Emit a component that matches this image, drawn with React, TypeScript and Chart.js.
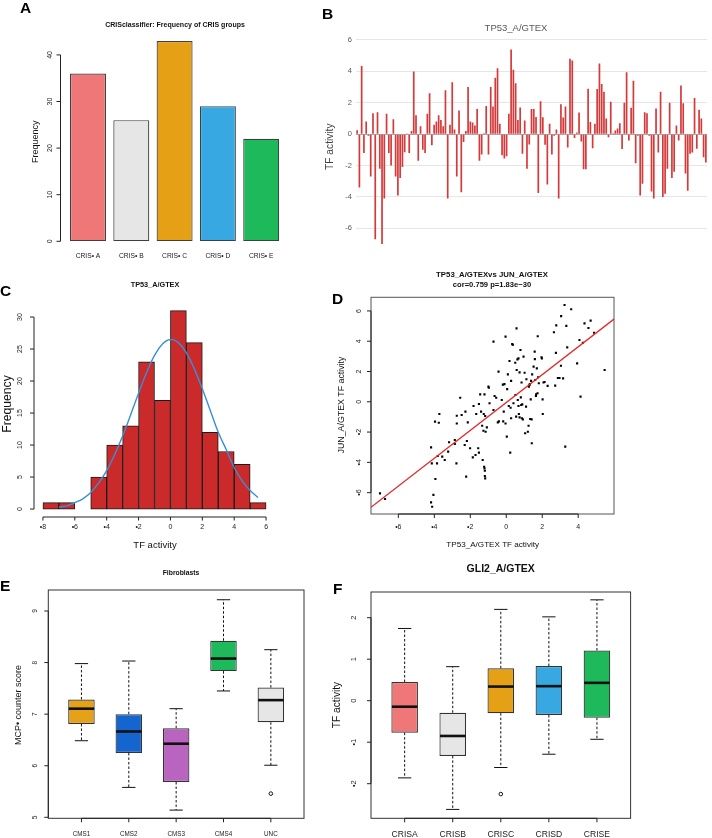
import React, { useEffect, useRef } from 'react';
import { Chart, registerables } from 'chart.js';

Chart.register(...registerables);

const FONT = '"Liberation Sans", Arial, Helvetica, sans-serif';

// ---------- Panel A ----------
const crisCategories = ['CRIS• A', 'CRIS• B', 'CRIS• C', 'CRIS• D', 'CRIS• E'];
const crisFrequency = [36, 26, 43, 29, 22];
const crisColors = ['#F07777', '#E6E6E6', '#E5A015', '#37A8E2', '#1DB95A'];
const freqTicksA = [0, 10, 20, 30, 40];

// ---------- Panel B ----------
const tp53Activity = [
  0.25, -3.4, 4.35, -1.2, 0.8, -0.1, -2.7, 1.34, -6.7, 1.4,
  -2.2, -7.0, -4.1, 1.3, -1.2, -2.0, 0.95, -2.7, -3.9, -2.8,
  -2.1, -1.15, 0.05, -1.2, 0.2, 4.0, 1.2, -1.7, 0.5, -1.0,
  -1.2, 1.3, 2.6, -0.7, 0.6, 0.8, 1.2, 0.9, 0.5, 2.8,
  -4.1, 0.6, 3.3, 0.3, -2.7, 1.5, -3.7, -0.5, 0.2, 3.0,
  0.8, 0.75, 0.55,
  1.6, -1.7, -1.3, 0.06, 1.8, -1.3, 3.0, 1.76, 3.6, 4.2,
  0.66, -1.35, -1.55, -1.4, 1.3, 5.4, 4.1, 3.25, 0.9, 1.7,
  -1.25, 0.87, -2.2, -0.66, 1.6, 1.6, 1.1, -3.75, 2.1, 1.08,
  -0.68, -3.2, 0.66, -1.3, -0.1, 0.3, -4.1, 1.9, 1.06, 1.76,
  -0.85, 4.8, 4.7, -0.25, 0.1, 1.38, -0.47, -2.23, -2.23, 2.9,
  0.77, -0.9, 0.66, 2.87, 4.5, 3.2, 2.7, 1.0, -0.2, 2.06,
  0.06, 0.23, 0.36, 0.7, -0.95, 2.0, 3.95, -0.4, 1.68, 3.4,
  -1.85, -0.1, -3.9, -3.16, 1.4, 1.34, -0.1, -3.65, -4.1, 1.63,
  -1.17, 2.7, -4.0, -3.8, -2.2, 2.0, -2.8, -2.4, 0.55, -0.4,
  3.1, 1.97, -2.5, -3.6, -1.25, -1.17, 2.3, -0.93, 1.55, 1.0,
  -1.47, -1.8,
];
const tfTicksB = [-6, -4, -2, 0, 2, 4, 6];

// ---------- Panel C ----------
const histBinCenters = [-7.5, -6.5, -5.5, -4.5, -3.5, -2.5, -1.5, -0.5, 0.5, 1.5, 2.5, 3.5, 4.5, 5.5];
const histCounts = [1, 1, 0, 5, 10, 13, 23, 17, 31, 26, 12, 9, 7, 1];
const curveX = [-7, -6.5, -6, -5.5, -5, -4.5, -4, -3.5, -3, -2.5, -2, -1.5, -1, -0.5, 0, 0.5, 1, 1.5, 2, 2.5, 3, 3.5, 4, 4.5, 5, 5.5];
const curveY = [0.3, 0.5, 1.0, 1.6, 2.6, 4.1, 6.0, 8.5, 11.4, 14.7, 18.1, 21.3, 24.0, 25.8, 26.5, 26.0, 24.4, 21.9, 18.8, 15.4, 12.0, 9.3, 6.5, 4.4, 2.9, 1.8];
const histXTicks = [-8, -6, -4, -2, 0, 2, 4, 6];
const histXLabels = ['•8', '•6', '•4', '•2', '0', '2', '4', '6'];
const histYTicks = [0, 5, 10, 15, 20, 25, 30];

// ---------- Panel D ----------
const scatterTP53 = [
  -7.02, -6.74, -4.18, -4.14, -4.18, -4.12, -4.05, -3.94, -3.96, -3.75,
  -3.72, -3.81, -3.85, -3.56, -3.42, -3.23, -3.18, -2.86, -2.86, -2.77,
  -2.75, -2.75, -2.56, -2.48, -2.27, -2.31, -2.23, -2.19, -2.14, -2.01,
  -1.86, -1.82, -1.71, -1.67, -1.56, -1.52, -1.52, -1.45, -1.40, -1.34,
  -1.31, -1.27, -1.25, -1.23, -1.21, -1.19, -1.19, -1.17, -1.21, -1.17,
  -1.15, -1.08, -0.99, -0.97, -0.93, -0.71, -0.71, -0.65, -0.56, -0.47,
  -0.43, -0.41, -0.25, -0.19, -0.17, -0.14, -0.10, -0.04, -0.04, 0.03,
  0.05, 0.09, 0.14, 0.18, 0.22, 0.24, 0.27, 0.27, 0.33, 0.37,
  0.40, 0.50, 0.51, 0.55, 0.57, 0.58, 0.62, 0.64, 0.68, 0.68,
  0.70, 0.74, 0.74, 0.79, 0.81, 0.83, 0.85, 0.87, 0.89, 0.92,
  0.96, 1.02, 1.05, 1.10, 1.12, 1.20, 1.24, 1.26, 1.29, 1.31,
  1.33, 1.36, 1.38, 1.41, 1.42, 1.44, 1.52, 1.58, 1.59, 1.61,
  1.65, 1.66, 1.70, 1.74, 1.75, 1.77, 1.81, 1.96, 1.98, 2.02,
  2.03, 2.07, 2.13, 2.30, 2.65, 2.72, 2.76, 2.78, 2.87, 2.96,
  3.04, 3.05, 3.16, 3.24, 3.28, 3.34, 3.39, 3.61, 3.94, 4.07,
  4.13, 4.26, 4.35, 4.57, 4.69, 4.88, 5.47,
];
const scatterJUN = [
  -6.05, -6.42, -3.01, -4.07, -6.64, -6.93, -6.15, -5.10, -1.31, -1.38,
  -0.81, -3.58, -4.07, -3.62, -3.84, -3.29, -2.67, -2.52, -2.79, -4.07,
  -1.43, -0.92, 0.27, -0.87, -0.65, -2.85, -4.94, -2.59, -1.36, -3.07,
  -3.67, -0.28, -3.51, -0.81, -3.07, -3.36, -0.15, 0.49, -0.65, -1.58,
  -3.84, -1.91, -0.81, -4.29, -4.40, -4.55, -4.90, -5.06, 0.49, -0.94,
  -1.98, -1.69, 1.00, 0.93, -0.10, 3.97, -0.54, 0.38, 0.27, -1.36,
  1.99, -1.29, 0.12, 1.13, -1.29, -0.65, 1.17, 4.30, -1.43, -2.30,
  0.84, 1.81, -0.28, 2.69, -3.36, -0.39, -1.09, 1.38, 3.81, 3.77,
  -0.10, 2.58, 0.45, -0.98, 4.85, 2.10, 2.80, 0.12, -0.28, 2.87,
  -0.81, 1.94, -1.03, 3.42, 0.29, -0.21, 1.27, -1.09, -0.17, -1.16,
  2.98, 1.92, -2.08, -0.32, 1.49, -1.98, -1.58, 1.00, 1.11, 1.17,
  -1.14, 0.16, 1.38, -1.16, -2.74, 1.81, 2.32, 3.31, 2.82, 1.44,
  0.38, 0.49, 2.21, 0.56, 4.33, 1.62, 1.22, 2.94, 2.87, 0.16,
  -0.81, 1.27, 1.31, 1.05, 4.59, 1.07, 3.23, 5.05, 1.57, 1.57,
  2.38, 5.66, 1.55, 6.39, -2.96, 5.01, 3.59, 6.11, 2.54, 4.08,
  0.34, 3.90, 5.18, 4.87, 5.36, 4.56, 2.10,
];
const fitX = [-7.52, 5.99];
const fitY = [-6.97, 5.46];
const scatterYTicks = [-6, -4, -2, 0, 2, 4, 6];
const scatterYLabels = ['•6', '•4', '•2', '0', '2', '4', '6'];
const scatterXTicks = [-6, -4, -2, 0, 2, 4];
const scatterXLabels = ['•6', '•4', '•2', '0', '2', '4'];

// ---------- Panel E ----------
const cmsGroups = ['CMS1', 'CMS2', 'CMS3', 'CMS4', 'UNC'];
const cmsLow = [6.485, 5.58, 5.14, 7.45, 6.01];
const cmsQ1 = [6.81, 6.248, 5.685, 7.835, 6.843];
const cmsMedian = [7.106, 6.664, 6.427, 8.078, 7.272];
const cmsQ3 = [7.285, 7.0, 6.728, 8.424, 7.515];
const cmsHigh = [7.98, 8.03, 7.106, 9.218, 8.25];
const cmsOutliers = [[], [], [], [], [5.46]];
const cmsColors = ['#E5A118', '#1565CF', '#B964BF', '#1DB95A', '#E6E6E6'];
const mcpTicks = [5, 6, 7, 8, 9];

// ---------- Panel F ----------
const crisGroupsF = ['CRISA', 'CRISB', 'CRISC', 'CRISD', 'CRISE'];
const gliLow = [-1.86, -2.62, -1.61, -1.29, -0.93];
const gliQ1 = [-0.77, -1.33, -0.30, -0.345, -0.41];
const gliMedian = [-0.145, -0.85, 0.34, 0.35, 0.43];
const gliQ3 = [0.45, -0.29, 0.78, 0.835, 1.21];
const gliHigh = [1.74, 0.82, 2.2, 2.02, 2.43];
const gliOutliers = [[], [], [-2.25], [], []];
const crisColorsF = ['#F07777', '#E6E6E6', '#E5A015', '#37A8E2', '#1DB95A'];
const gliTicks = [-2, -1, 0, 1, 2];
const gliTickLabels = ['•2', '•1', '0', '1', '2'];

// ---------- helpers ----------
type Txt = { text: string; x: number; y: number; size: number; bold?: boolean; rotate?: boolean; color?: string; family?: string };
type Axis = { scale: string; side: 'left' | 'bottom'; values: number[]; labels: string[]; offset?: number; tickLen?: number; gap: number; size: number; line?: boolean; rotate?: boolean };
type Box = { low: number[]; q1: number[]; med: number[]; q3: number[]; high: number[]; out: number[][] };

function putText(ctx: CanvasRenderingContext2D, t: Txt) {
  ctx.save();
  ctx.font = `${t.bold ? 'bold ' : ''}${t.size}px ${t.family || FONT}`;
  ctx.fillStyle = t.color || '#111';
  ctx.textAlign = 'center';
  ctx.textBaseline = 'middle';
  ctx.translate(t.x, t.y);
  if (t.rotate) ctx.rotate(-Math.PI / 2);
  ctx.fillText(t.text, 0, 0);
  ctx.restore();
}

function drawAxis(chart: any, a: Axis) {
  const ctx = chart.ctx as CanvasRenderingContext2D;
  const ca = chart.chartArea;
  const s = chart.scales[a.scale];
  const tl = a.tickLen ?? 4;
  const off = a.offset ?? 0;
  const ps = a.values.map((v) => s.getPixelForValue(v));
  ctx.save();
  ctx.strokeStyle = '#222';
  ctx.lineWidth = 1;
  ctx.beginPath();
  if (a.side === 'left') {
    const X = ca.left - off;
    if (a.line) { ctx.moveTo(X, ps[0]); ctx.lineTo(X, ps[ps.length - 1]); }
    if (tl > 0) ps.forEach((p) => { ctx.moveTo(X, p); ctx.lineTo(X - tl, p); });
    ctx.stroke();
    ps.forEach((p, i) => putText(ctx, { text: a.labels[i], x: X - a.gap, y: p, size: a.size, rotate: a.rotate, color: '#222' }));
  } else {
    const Y = ca.bottom + off;
    if (a.line) { ctx.moveTo(ps[0], Y); ctx.lineTo(ps[ps.length - 1], Y); }
    if (tl > 0) ps.forEach((p) => { ctx.moveTo(p, Y); ctx.lineTo(p, Y + tl); });
    ctx.stroke();
    ps.forEach((p, i) => putText(ctx, { text: a.labels[i], x: p, y: Y + a.gap, size: a.size, color: '#222' }));
  }
  ctx.restore();
}

function decoPlugin(cfg: { frame?: string; axes?: Axis[]; texts?: Txt[]; box?: Box }) {
  return {
    id: 'deco',
    afterDatasetsDraw(chart: any) {
      if (!cfg.box) return;
      const ctx = chart.ctx as CanvasRenderingContext2D;
      const meta = chart.getDatasetMeta(0);
      const ys = chart.scales.y;
      const b = cfg.box;
      const py = (v: number) => ys.getPixelForValue(v);
      const seg = (x1: number, y1: number, x2: number, y2: number) => {
        ctx.beginPath(); ctx.moveTo(x1, y1); ctx.lineTo(x2, y2); ctx.stroke();
      };
      ctx.save();
      b.med.forEach((m, i) => {
        const el = meta.data[i];
        const x = el.x;
        const hw = el.width / 2;
        const cw = hw / 2;
        ctx.strokeStyle = '#111';
        ctx.lineWidth = 1;
        ctx.setLineDash([2.5, 2]);
        seg(x, py(b.q3[i]), x, py(b.high[i]));
        seg(x, py(b.q1[i]), x, py(b.low[i]));
        ctx.setLineDash([]);
        seg(x - cw, py(b.high[i]), x + cw, py(b.high[i]));
        seg(x - cw, py(b.low[i]), x + cw, py(b.low[i]));
        ctx.lineWidth = 2.6;
        seg(x - hw + 0.5, py(m), x + hw - 0.5, py(m));
        ctx.lineWidth = 1;
        b.out[i].forEach((o) => {
          ctx.beginPath(); ctx.arc(x, py(o), 1.8, 0, Math.PI * 2); ctx.stroke();
        });
      });
      ctx.restore();
    },
    afterDraw(chart: any) {
      const ctx = chart.ctx as CanvasRenderingContext2D;
      const ca = chart.chartArea;
      if (cfg.frame) {
        ctx.save();
        ctx.strokeStyle = cfg.frame;
        ctx.lineWidth = 1;
        ctx.strokeRect(ca.left, ca.top, ca.right - ca.left, ca.bottom - ca.top);
        ctx.restore();
      }
      (cfg.axes || []).forEach((a) => drawAxis(chart, a));
      (cfg.texts || []).forEach((t) => putText(ctx, t));
    },
  };
}

const baseOpts = {
  animation: false as const,
  responsive: false,
  maintainAspectRatio: false,
  events: [] as any[],
};
const noPlugins = { legend: { display: false }, tooltip: { enabled: false }, title: { display: false } };

// ---------- chart builders ----------
function buildA(): any {
  return {
    type: 'bar',
    data: {
      labels: crisCategories,
      datasets: [{
        data: crisFrequency, backgroundColor: crisColors, borderColor: '#404040', borderWidth: 1.2,
        borderSkipped: false, barPercentage: 0.831, categoryPercentage: 1,
      }],
    },
    options: {
      ...baseOpts,
      layout: { padding: { left: 66.35, right: 73.15, top: 40, bottom: 26.7 } },
      plugins: noPlugins,
      scales: { x: { display: false }, y: { display: false, min: 0, max: 43.2 } },
    },
    plugins: [decoPlugin({
      axes: [
        { scale: 'y', side: 'left', values: freqTicksA, labels: freqTicksA.map(String), offset: 5.85, gap: 10.5, size: 7, line: true, rotate: true },
        { scale: 'x', side: 'bottom', values: [0, 1, 2, 3, 4], labels: crisCategories, tickLen: 0, gap: 14.7, size: 6.7 },
      ],
      texts: [
        { text: 'CRISclassifier: Frequency of CRIS groups', x: 175, y: 25.3, size: 7, bold: true },
        { text: 'Frequency', x: 35.7, y: 141.7, size: 9, rotate: true },
      ],
    })],
  };
}

function buildB(): any {
  return {
    type: 'bar',
    data: {
      labels: tp53Activity.map((_, i) => String(i + 1)),
      datasets: [{ data: tp53Activity, backgroundColor: '#D43A3A', barPercentage: 0.75, categoryPercentage: 1 }],
    },
    options: {
      ...baseOpts,
      layout: { padding: { left: 0, right: 5, top: 34.5, bottom: 16.4 } },
      plugins: noPlugins,
      scales: {
        x: { display: false },
        y: {
          min: -7.1, max: 6.35,
          afterBuildTicks: (ax: any) => { ax.ticks = tfTicksB.map((v) => ({ value: v })); },
          afterFit: (ax: any) => { ax.width = 36; },
          border: { display: false },
          grid: {
            drawTicks: false, lineWidth: 1,
            color: (c: any) => (c.tick && c.tick.value === 0 ? '#A8A8A8' : '#E6E6E6'),
          },
          ticks: { font: { size: 7.5, family: FONT }, color: '#595959', padding: 4 },
        },
      },
    },
    plugins: [decoPlugin({
      texts: [
        { text: 'TP53_A/GTEX', x: 196, y: 28.2, size: 9.5, color: '#595959' },
        { text: 'TF activity', x: 10, y: 146.7, size: 10.2, rotate: true, color: '#404040' },
      ],
    })],
  };
}

function buildC(): any {
  return {
    type: 'bar',
    data: {
      datasets: [
        {
          type: 'bar', order: 2,
          data: histBinCenters.map((x, i) => ({ x, y: histCounts[i] })),
          backgroundColor: '#CB2A2A', borderColor: '#1a1a1a', borderWidth: 1, borderSkipped: false,
          barPercentage: 1, categoryPercentage: 1,
        },
        {
          type: 'line', order: 1,
          data: curveX.map((x, i) => ({ x, y: curveY[i] })),
          borderColor: '#3B8ED4', borderWidth: 1.4, pointRadius: 0, tension: 0.4, fill: false,
        },
      ],
    },
    options: {
      ...baseOpts,
      layout: { padding: { left: 34, right: 55, top: 34.7, bottom: 38 } },
      plugins: noPlugins,
      scales: {
        x: { type: 'linear', display: false, min: -8.56, max: 6.56, offset: false },
        y: { display: false, min: -1.24, max: 32.24 },
      },
    },
    plugins: [decoPlugin({
      axes: [
        { scale: 'y', side: 'left', values: histYTicks, labels: histYTicks.map(String), offset: 0, gap: 14, size: 7, line: true, rotate: true },
        { scale: 'x', side: 'bottom', values: histXTicks, labels: histXLabels, offset: 0, gap: 9.7, tickLen: 3.5, size: 7, line: true },
      ],
      texts: [
        { text: 'TP53_A/GTEX', x: 155, y: 17, size: 7.3, bold: true },
        { text: 'Frequency', x: 7.5, y: 136, size: 12.2, rotate: true },
        { text: 'TF activity', x: 155, y: 277.5, size: 9.5 },
      ],
    })],
  };
}

function buildD(): any {
  return {
    type: 'scatter',
    data: {
      datasets: [
        {
          order: 1, showLine: true,
          data: fitX.map((x, i) => ({ x, y: fitY[i] })),
          borderColor: '#E32A2A', borderWidth: 1.3, pointRadius: 0,
        },
        {
          order: 2,
          data: scatterTP53.map((x, i) => ({ x, y: scatterJUN[i] })),
          pointStyle: 'rect', pointRadius: 1.5, backgroundColor: '#000', borderWidth: 0,
        },
      ],
    },
    options: {
      ...baseOpts,
      layout: { padding: { left: 41, right: 98, top: 35.3, bottom: 38 } },
      plugins: noPlugins,
      scales: {
        x: { type: 'linear', display: false, min: -7.52, max: 5.99 },
        y: { type: 'linear', display: false, min: -7.41, max: 6.9 },
      },
    },
    plugins: [decoPlugin({
      frame: '#555',
      axes: [
        { scale: 'y', side: 'left', values: scatterYTicks, labels: scatterYLabels, gap: 12, size: 7, line: true, rotate: true },
        { scale: 'x', side: 'bottom', values: scatterXTicks, labels: scatterXLabels, gap: 12.7, size: 7, line: true },
      ],
      texts: [
        { text: 'TP53_A/GTEXvs JUN_A/GTEX', x: 162, y: 13.3, size: 7.8, bold: true },
        { text: 'cor=0.759 p=1.83e−30', x: 162, y: 23, size: 7.6, bold: true },
        { text: 'TP53_A/GTEX TF activity', x: 162.7, y: 282.5, size: 8.1 },
        { text: 'JUN_A/GTEX TF activity', x: 11.2, y: 143, size: 8.8, rotate: true },
      ],
    })],
  };
}

function buildBoxes(p: {
  low: number[]; q1: number[]; med: number[]; q3: number[]; high: number[]; out: number[][];
  colors: string[]; yMin: number; yMax: number; padding: any; barPct: number;
  axes: Axis[]; texts: Txt[];
}): any {
  return {
    type: 'bar',
    data: {
      datasets: [{
        data: p.q1.map((q, i) => ({ x: i + 1, y: [q, p.q3[i]] })),
        backgroundColor: p.colors, borderColor: '#333', borderWidth: 1.2, borderSkipped: false,
        barPercentage: p.barPct, categoryPercentage: 1,
      }],
    },
    options: {
      ...baseOpts,
      layout: { padding: p.padding },
      plugins: noPlugins,
      scales: {
        x: { type: 'linear', display: false, min: 0.3, max: 5.7, offset: false },
        y: { display: false, min: p.yMin, max: p.yMax },
      },
    },
    plugins: [decoPlugin({
      frame: '#333',
      box: { low: p.low, q1: p.q1, med: p.med, q3: p.q3, high: p.high, out: p.out },
      axes: p.axes,
      texts: p.texts,
    })],
  };
}

function buildE(): any {
  return buildBoxes({
    low: cmsLow, q1: cmsQ1, med: cmsMedian, q3: cmsQ3, high: cmsHigh, out: cmsOutliers,
    colors: cmsColors, yMin: 4.981, yMax: 9.407,
    padding: { left: 48.3, right: 26, top: 35, bottom: 19.7 }, barPct: 0.8,
    axes: [
      { scale: 'y', side: 'left', values: mcpTicks, labels: mcpTicks.map(String), gap: 13.3, size: 6.6, line: true, rotate: true },
      { scale: 'x', side: 'bottom', values: [1, 2, 3, 4, 5], labels: cmsGroups, gap: 15.7, size: 6.3, line: true },
    ],
    texts: [
      { text: 'Fibroblasts', x: 181, y: 18, size: 6.8, bold: true },
      { text: 'MCP• counter score', x: 18.3, y: 150, size: 9, rotate: true },
    ],
  });
}

function buildF(): any {
  return buildBoxes({
    low: gliLow, q1: gliQ1, med: gliMedian, q3: gliQ3, high: gliHigh, out: gliOutliers,
    colors: crisColorsF, yMin: -2.834, yMax: 2.619,
    padding: { left: 41, right: 81.4, top: 40, bottom: 19.7 }, barPct: 0.79,
    axes: [
      { scale: 'y', side: 'left', values: gliTicks, labels: gliTickLabels, gap: 17, size: 7.5, line: true, rotate: true },
      { scale: 'x', side: 'bottom', values: [1, 2, 3, 4, 5], labels: crisGroupsF, gap: 16, size: 8.6, line: true },
    ],
    texts: [
      { text: 'GLI2_A/GTEX', x: 170.7, y: 17.3, size: 10.5, bold: true },
      { text: 'TF activity', x: 6.7, y: 153, size: 10.2, rotate: true },
    ],
  });
}

function Panel({ left, top, width, height, build }: { left: number; top: number; width: number; height: number; build: () => any }) {
  const ref = useRef<HTMLCanvasElement | null>(null);
  useEffect(() => {
    if (!ref.current) return;
    const chart = new Chart(ref.current, build());
    return () => chart.destroy();
  }, []);
  return (
    <canvas
      ref={ref}
      width={width}
      height={height}
      style={{ position: 'absolute', left, top, width, height }}
    />
  );
}

const letterStyle = (left: number, top: number): React.CSSProperties => ({
  position: 'absolute', left, top: top - 2, fontFamily: FONT, fontWeight: 'bold',
  fontSize: 15.5, lineHeight: '15.5px', color: '#000',
});

export default function App() {
  useEffect(() => {
    document.body.style.margin = '0';
    document.body.style.background = '#fff';
  }, []);
  return (
    <div style={{ position: 'absolute', left: 0, top: 0, width: 712, height: 838, background: '#fff', overflow: 'hidden' }}>
      <Panel left={0} top={0} width={356} height={268} build={buildA} />
      <Panel left={320} top={0} width={392} height={262} build={buildB} />
      <Panel left={0} top={268} width={330} height={287} build={buildC} />
      <Panel left={330} top={262} width={382} height={290} build={buildD} />
      <Panel left={0} top={555} width={330} height={283} build={buildE} />
      <Panel left={330} top={552} width={382} height={286} build={buildF} />
      <div style={letterStyle(20, 2)}>A</div>
      <div style={letterStyle(322, 8)}>B</div>
      <div style={letterStyle(0, 285)}>C</div>
      <div style={letterStyle(332, 293)}>D</div>
      <div style={letterStyle(0, 580)}>E</div>
      <div style={letterStyle(333, 583)}>F</div>
    </div>
  );
}
